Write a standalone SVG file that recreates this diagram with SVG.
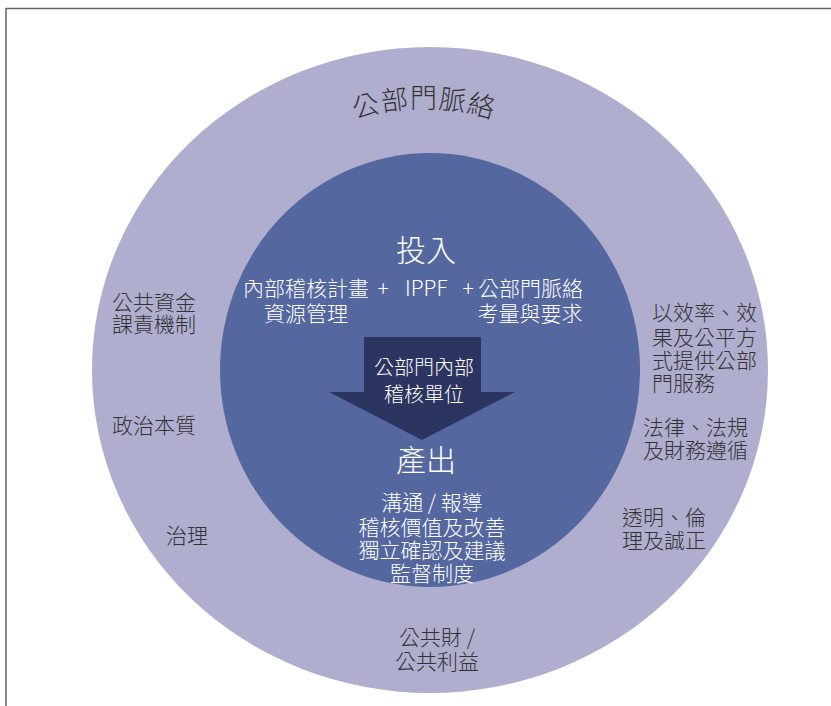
<svg xmlns="http://www.w3.org/2000/svg" width="831" height="706" viewBox="0 0 831 706">
<style>
.t{font-family:"Noto Sans CJK TC","Noto Sans CJK SC",sans-serif;font-size:21px;font-weight:300;fill:#333333}
.w{font-family:"Noto Sans CJK TC","Noto Sans CJK SC",sans-serif;font-size:21px;font-weight:300;fill:#ffffff}
.big{font-size:30px}
.m{text-anchor:middle}
</style>
<defs>
<path id="arcTop" d="M 204 328 A 220 220 0 0 1 644 328"/>
</defs>
<rect width="831" height="706" fill="#ffffff"/>
<g id="frame" fill="none" stroke="#666666" stroke-width="1.5">
<path d="M 6 706 L 6 8.5 L 831 8.5"/>
</g>
<g id="outer">
<ellipse cx="430" cy="370" rx="338" ry="323" fill="#AFAECF"/>
<text class="t" style="font-size:27px;letter-spacing:1px"><textPath href="#arcTop" startOffset="50%" text-anchor="middle">公部門脈絡</textPath></text>
<text class="t" x="112" y="310">公共資金</text>
<text class="t" x="112" y="332">課責機制</text>
<text class="t" x="112" y="433">政治本質</text>
<text class="t" x="166" y="543">治理</text>
<text class="t" x="652" y="320">以效率、效</text>
<text class="t" x="652" y="345">果及公平方</text>
<text class="t" x="652" y="368">式提供公部</text>
<text class="t" x="652" y="391">門服務</text>
<text class="t" x="643" y="435">法律、法規</text>
<text class="t" x="643" y="458">及財務遵循</text>
<text class="t" x="622" y="525">透明、倫</text>
<text class="t" x="622" y="548">理及誠正</text>
<text class="t m" x="437" y="645">公共財 /</text>
<text class="t m" x="437" y="669">公共利益</text>
</g>
<g id="inner">
<ellipse cx="430" cy="370" rx="210" ry="217" fill="#55679F"/>
<text class="w big m" x="426" y="261">投入</text>
<text class="w" x="243" y="296">內部稽核計畫</text>
<text class="w m" x="383" y="296">+</text>
<text class="w" x="405" y="296">IPPF</text>
<text class="w m" x="468" y="296">+</text>
<text class="w" x="478" y="296">公部門脈絡</text>
<text class="w m" x="306" y="321">資源管理</text>
<text class="w m" x="530" y="321">考量與要求</text>
</g>
<g id="arrow">
<polygon points="364,337 481,337 481,392 515,392 422,440 329,392 364,392" fill="#2B3560"/>
<text class="w m" x="424" y="375" style="font-size:20px">公部門內部</text>
<text class="w m" x="424" y="402" style="font-size:20px">稽核單位</text>
</g>
<g id="output">
<text class="w big m" x="426" y="471">產出</text>
<text class="w m" x="432" y="510">溝通 / 報導</text>
<text class="w m" x="432" y="535">稽核價值及改善</text>
<text class="w m" x="432" y="558">獨立確認及建議</text>
<text class="w m" x="432" y="581">監督制度</text>
</g>
</svg>
